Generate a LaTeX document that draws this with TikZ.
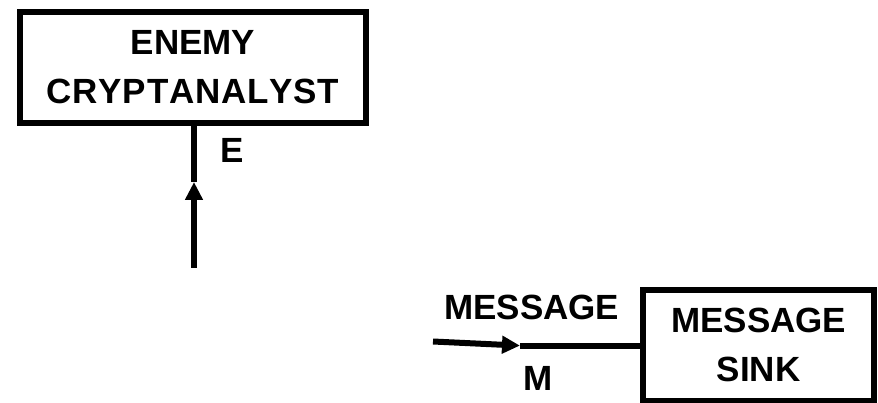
\documentclass[tikz,border=0pt]{standalone}
\usepackage{fontspec}
\setmainfont{Liberation Sans}[Kerning=Off]
\usetikzlibrary{arrows.meta}
\begin{document}
\begin{tikzpicture}[x=1pt,y=-1pt,
  every node/.style={font=\bfseries\fontsize{35}{48.5}\selectfont},
  blockbox/.style={draw,line width=6pt,align=center,inner sep=0pt},
  wire/.style={line width=6pt},
  tip/.style={wire,-{Triangle[length=18pt,width=17pt]}},
  lbl/.style={inner sep=0pt}]
  \useasboundingbox (0,0) rectangle (878,403);

  % enemy cryptanalyst block, tapping the channel
  \node[blockbox,minimum width=346.7pt,minimum height=111pt] (enemy) at (193,67.2)
    {ENEMY\\{\addfontfeatures{LetterSpace=2.2}CRYPTANALYST}};
  \coordinate (etail) at (194,268);
  \coordinate (ehead) at (194,182);
  \draw[tip] (etail) -- (ehead);
  \draw[wire] (ehead) -- (ehead |- enemy.south);
  \node[lbl] (elabel) at (231.7,150) {E};

  % message sink block with its incoming message
  \node[blockbox,minimum width=231.5pt,minimum height=110.8pt] (sink) at (758.7,345.1) {MESSAGE\\SINK};
  \coordinate (mtail) at (433,341.5);
  \coordinate (mhead) at (520,345.6);
  \draw[tip] (mtail) -- (mhead);
  \draw[wire] (mhead) -- (mhead -| sink.west);
  \node[lbl] (mtop) at (531.7,307.5) {MESSAGE};
  \node[lbl] (mlabel) at (538,378) {M};
\end{tikzpicture}
\end{document}
